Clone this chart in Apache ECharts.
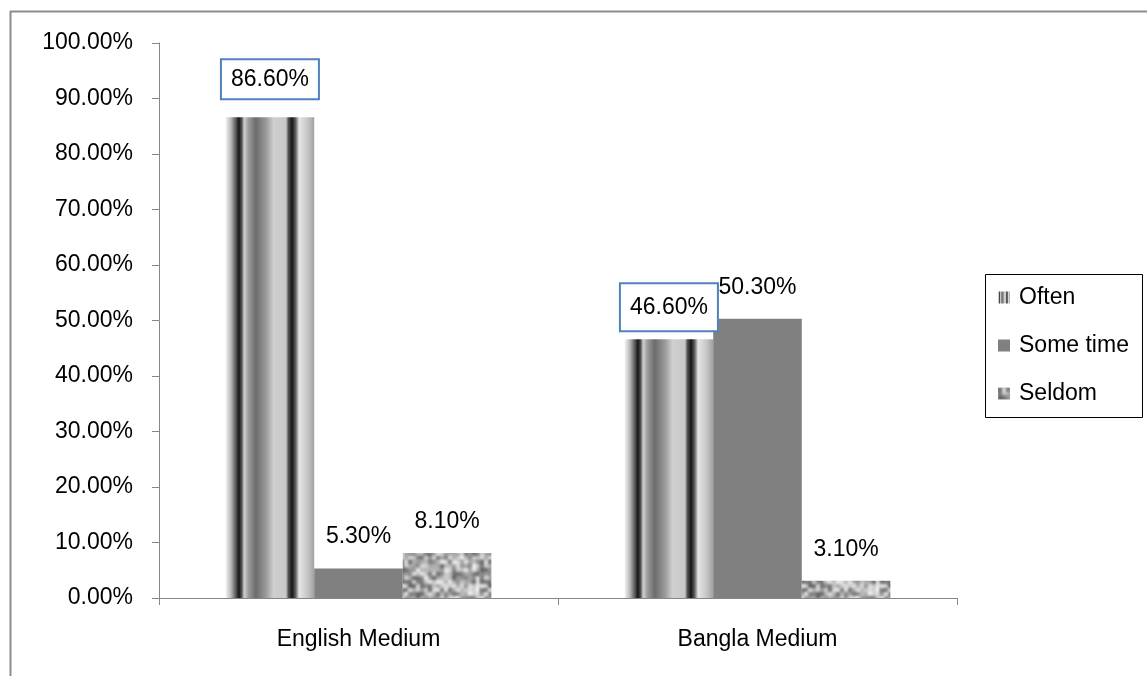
<!DOCTYPE html>
<html>
<head>
<meta charset="utf-8">
<script src="https://cdn.jsdelivr.net/npm/echarts@6/dist/echarts.min.js"></script>
<style>
html,body{margin:0;padding:0;background:#fff;}
#c{width:1147px;height:676px;}
</style>
</head>
<body>
<div id="c"></div>
<script>
// ---- data ----
const categories = ['English Medium', 'Bangla Medium'];
const seriesNames = ['Often', 'Some time', 'Seldom'];
const often = [0.866, 0.466];
const someTime = [0.053, 0.503];
const seldom = [0.081, 0.031];
const yTicks = [0, 0.1, 0.2, 0.3, 0.4, 0.5, 0.6, 0.7, 0.8, 0.9, 1.0];

const FONT = 'Liberation Sans';
const FS = 23;

// ---- fills ----
const stripeFill = {
  type: 'linear', x: 0, y: 0, x2: 1, y2: 0,
  colorStops: [
    {offset: 0.00, color: '#f4f4f4'},
    {offset: 0.06, color: '#b8b8b8'},
    {offset: 0.12, color: '#505050'},
    {offset: 0.15, color: '#151515'},
    {offset: 0.18, color: '#505050'},
    {offset: 0.21, color: '#d0d0d0'},
    {offset: 0.26, color: '#9a9a9a'},
    {offset: 0.34, color: '#6c6c6c'},
    {offset: 0.46, color: '#9c9c9c'},
    {offset: 0.54, color: '#cfcfcf'},
    {offset: 0.68, color: '#c8c8c8'},
    {offset: 0.71, color: '#505050'},
    {offset: 0.75, color: '#151515'},
    {offset: 0.79, color: '#606060'},
    {offset: 0.83, color: '#e6e6e6'},
    {offset: 0.93, color: '#c4c4c4'},
    {offset: 1.00, color: '#a0a0a0'}
  ]
};

function makeNoise() {
  const n = 80, cell = 4;
  const tmp = document.createElement('canvas');
  tmp.width = n; tmp.height = n;
  const t = tmp.getContext('2d');
  function h(i, j) {
    const s = Math.sin(i * 12.9898 + j * 78.233) * 43758.5453;
    return s - Math.floor(s);
  }
  for (let i = 0; i < n / cell; i++) {
    for (let j = 0; j < n / cell; j++) {
      const g = Math.round(90 + h(i, j) * 160);
      t.fillStyle = 'rgb(' + g + ',' + g + ',' + g + ')';
      t.fillRect(i * cell, j * cell, cell, cell);
    }
  }
  const c = document.createElement('canvas');
  c.width = n; c.height = n;
  const ctx = c.getContext('2d');
  ctx.fillStyle = '#a8a8a8';
  ctx.fillRect(0, 0, n, n);
  ctx.filter = 'blur(1.8px)';
  for (let dx = -n; dx <= n; dx += n) {
    for (let dy = -n; dy <= n; dy += n) {
      ctx.drawImage(tmp, dx, dy);
    }
  }
  return c;
}
const noiseFill = {image: makeNoise(), repeat: 'repeat'};

const oftenLabelStyles = [
  {distance: 19, padding: [8, 9, 7, 9]},
  {distance: 9, padding: [12, 9, 11, 9]}
];

const chart = echarts.init(document.getElementById('c'), null, {renderer: 'canvas'});

const baseLabel = {
  show: true, position: 'top', distance: 20,
  color: '#000', fontFamily: FONT, fontSize: FS,
  formatter: p => (p.value * 100).toFixed(2) + '%'
};

chart.setOption({
  animation: false,
  backgroundColor: '#fff',
  textStyle: {fontFamily: FONT},
  grid: {left: 159, top: 43, right: 190, bottom: 78, containLabel: false},
  legend: {
    orient: 'vertical', left: 998, top: 286,
    padding: 0, itemGap: 25, itemWidth: 12, itemHeight: 12,
    icon: 'rect',
    data: seriesNames,
    textStyle: {fontFamily: FONT, fontSize: FS, color: '#000', padding: [0, 0, 0, 4]}
  },
  xAxis: {
    type: 'category', data: categories,
    axisLine: {lineStyle: {color: '#868686', width: 1}},
    axisTick: {show: true, length: 7, lineStyle: {color: '#868686'}},
    axisLabel: {color: '#000', fontFamily: FONT, fontSize: FS, margin: 30}
  },
  yAxis: {
    type: 'value', min: 0, max: 1, interval: 0.1,
    splitLine: {show: false},
    axisLine: {show: true, lineStyle: {color: '#868686', width: 1}},
    axisTick: {show: true, length: 7, lineStyle: {color: '#868686'}},
    axisLabel: {
      color: '#000', fontFamily: FONT, fontSize: FS, margin: 26,
      customValues: yTicks,
      formatter: v => (v * 100).toFixed(2) + '%'
    }
  },
  graphic: [
    {type: 'line', shape: {x1: 10, y1: 11.5, x2: 1147, y2: 11.5}, style: {stroke: '#8c8c8c', lineWidth: 2}, silent: true},
    {type: 'line', shape: {x1: 10.5, y1: 11, x2: 10.5, y2: 676}, style: {stroke: '#8c8c8c', lineWidth: 2}, silent: true},
    {type: 'rect', shape: {x: 985.5, y: 274.5, width: 157, height: 143}, style: {fill: 'none', stroke: '#000', lineWidth: 1}, silent: true}
  ],
  series: [
    {
      name: seriesNames[0], type: 'bar', barGap: '0%', barCategoryGap: '33.4%',
      itemStyle: {color: stripeFill},
      label: Object.assign({}, baseLabel, {
        backgroundColor: '#fff', borderColor: '#4f81bd', borderWidth: 2
      }),
      data: often.map((v, i) => ({value: v, label: oftenLabelStyles[i]}))
    },
    {
      name: seriesNames[1], type: 'bar', barGap: '0%', barCategoryGap: '33.4%',
      itemStyle: {color: '#808080'},
      label: baseLabel,
      data: someTime
    },
    {
      name: seriesNames[2], type: 'bar', barGap: '0%', barCategoryGap: '33.4%',
      itemStyle: {color: noiseFill},
      label: baseLabel,
      data: seldom
    }
  ]
});
</script>
</body>
</html>
